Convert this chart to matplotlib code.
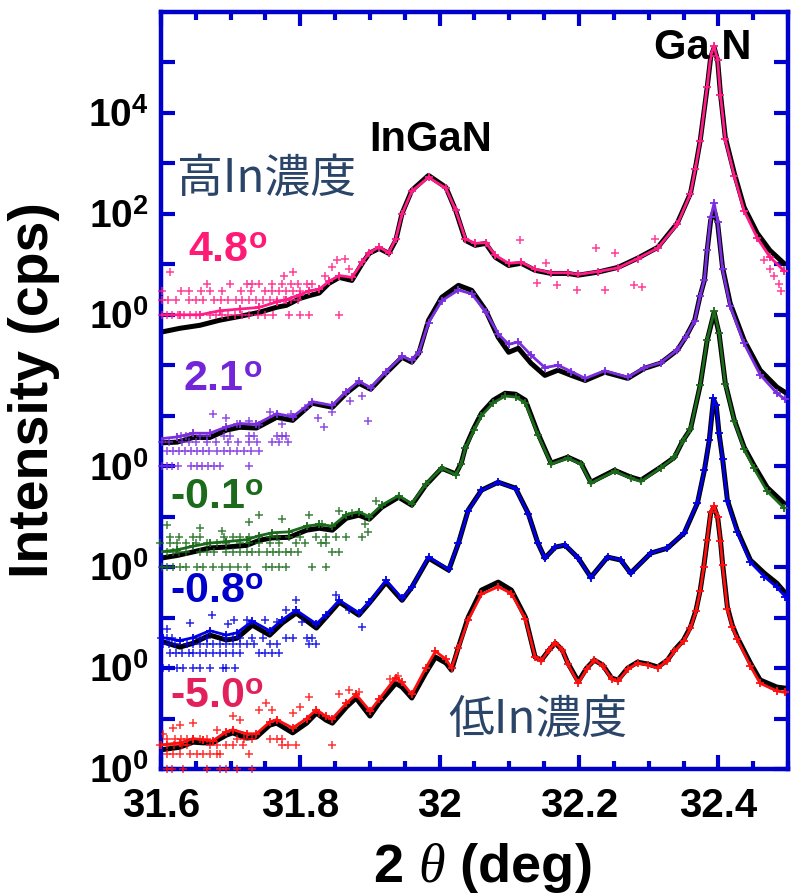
import numpy as np
import matplotlib
matplotlib.use('Agg')
import matplotlib.pyplot as plt
from matplotlib.ticker import FixedLocator, FixedFormatter, MultipleLocator, NullLocator, FuncFormatter

plt.rcParams['font.family'] = ['Liberation Sans', 'DejaVu Sans']
plt.rcParams['mathtext.fontset'] = 'custom'
plt.rcParams['mathtext.rm'] = 'Liberation Sans:bold'
plt.rcParams['mathtext.bf'] = 'Liberation Sans:bold'
plt.rcParams['mathtext.it'] = 'Liberation Serif:italic'

# ---- measured / fitted XRD profiles (cps), one set per off-angle ----
x_red = [31.600, 31.627, 31.646, 31.660, 31.674, 31.694, 31.703, 31.723, 31.737, 31.756, 31.766, 31.789, 31.809,
         31.823, 31.837, 31.846, 31.866, 31.880, 31.900, 31.913, 31.937, 31.946, 31.960, 31.980, 31.994, 32.009,
         32.017, 32.027, 32.041, 32.060, 32.084, 32.103, 32.123, 32.137, 32.146, 32.157, 32.166, 32.176, 32.184,
         32.199, 32.211, 32.222, 32.234, 32.247, 32.256, 32.270, 32.284, 32.299, 32.313, 32.327, 32.337, 32.350,
         32.360, 32.368, 32.374, 32.379, 32.384, 32.389, 32.394, 32.399, 32.403, 32.406, 32.413, 32.420, 32.427,
         32.446, 32.460, 32.484, 32.496]
fit_red = [2.4, 2.7, 3.4, 3.3, 3.3, 4.7, 5.2, 4.1, 4.3, 7.4, 8.1, 5.2, 8.1, 12.8, 9.3, 8.1, 16.9, 25.5, 11.2, 20.3,
           50, 42, 25.5, 80, 165, 126, 91, 261, 1020, 3500, 5050, 3500, 1020, 165, 144, 227, 313, 227, 126, 54, 100,
           144, 115, 63, 58, 100, 131, 120, 105, 144, 227, 358, 650, 1410, 3500, 10000, 34000, 117000, 154000,
           98000, 34000, 12000, 1610, 710, 411, 126, 58, 42, 40]
meas_red = [3.0, 3.3, 4.0, 3.8, 3.6, 5.5, 6.0, 5.0, 5.0, 8.5, 9.5, 6.5, 10, 15, 11, 10, 20, 30, 14, 24, 65, 52, 30,
            100, 215, 150, 100, 250, 900, 2900, 4100, 3000, 950, 165, 140, 230, 320, 230, 120, 50, 95, 145, 112, 60,
            55, 95, 125, 115, 100, 140, 215, 340, 620, 1350, 3400, 10000, 35000, 125000, 165000, 100000, 33000,
            11000, 1500, 650, 380, 110, 50, 35, 33]

x_blue = [31.603, 31.627, 31.646, 31.670, 31.694, 31.709, 31.731, 31.756, 31.774, 31.794, 31.823, 31.837, 31.856,
          31.884, 31.899, 31.923, 31.946, 31.960, 31.984, 32.013, 32.027, 32.041, 32.060, 32.084, 32.109, 32.127,
          32.141, 32.151, 32.166, 32.180, 32.199, 32.217, 32.241, 32.260, 32.274, 32.303, 32.327, 32.351, 32.370,
          32.380, 32.387, 32.393, 32.397, 32.401, 32.406, 32.413, 32.427, 32.446, 32.466, 32.484, 32.496]
fit_blue = [3.3, 2.6, 3.1, 4.5, 3.6, 3.9, 7.1, 4.5, 7.8, 12.3, 6.2, 10.2, 20.3, 11.2, 19.4, 50, 22, 40, 151, 87,
            299, 1350, 3350, 4820, 3660, 1170, 299, 151, 249, 273, 151, 63, 158, 138, 76, 189, 238, 471, 1850, 8340,
            32700, 212000, 161000, 45000, 14400, 2120, 541, 138, 76, 48, 31]
meas_blue = [4.0, 3.5, 4.0, 5.5, 4.5, 5.0, 8.5, 5.5, 9.0, 14, 7.5, 11.5, 22, 12.5, 20, 55, 24, 40, 160, 90, 300,
             1300, 3300, 4800, 3600, 1150, 300, 150, 250, 280, 150, 62, 160, 140, 75, 190, 240, 480, 1900, 8500,
             33000, 220000, 165000, 46000, 14000, 2000, 500, 125, 65, 40, 26]

x_green = [31.599, 31.623, 31.646, 31.670, 31.694, 31.723, 31.741, 31.760, 31.784, 31.809, 31.827, 31.846, 31.866,
           31.884, 31.899, 31.917, 31.941, 31.960, 31.980, 32.003, 32.023, 32.031, 32.037, 32.049, 32.060, 32.077,
           32.094, 32.109, 32.123, 32.141, 32.160, 32.184, 32.203, 32.217, 32.251, 32.274, 32.289, 32.317, 32.337,
           32.349, 32.360, 32.374, 32.384, 32.394, 32.401, 32.410, 32.423, 32.437, 32.451, 32.470, 32.494]
fit_green = [1.5, 1.7, 2.0, 2.4, 2.5, 2.7, 3.4, 3.8, 3.9, 5.4, 5.9, 5.4, 9.3, 10.7, 8.9, 15.4, 24.3, 16.9, 42, 91,
             70, 115, 238, 565, 1120, 2030, 2790, 2670, 2030, 450, 115, 151, 115, 48, 83, 61, 53, 95, 150, 320, 540,
             4020, 31300, 112000, 43000, 4400, 815, 238, 105, 38, 18.5]
meas_green = [2.0, 2.2, 2.6, 3.0, 3.2, 3.5, 4.2, 4.8, 5.0, 6.5, 7.0, 6.5, 11, 12.5, 10, 17, 26, 18, 44, 92, 68, 112,
              230, 520, 1000, 1800, 2450, 2350, 1800, 420, 110, 145, 110, 46, 80, 58, 50, 92, 150, 320, 540, 4100,
              32000, 118000, 44000, 4300, 780, 220, 92, 32, 15]

x_purple = [31.599, 31.623, 31.646, 31.670, 31.694, 31.713, 31.737, 31.766, 31.789, 31.817, 31.846, 31.866, 31.884,
            31.901, 31.923, 31.946, 31.960, 31.970, 31.984, 32.003, 32.027, 32.046, 32.066, 32.084, 32.099, 32.113,
            32.131, 32.151, 32.170, 32.189, 32.209, 32.237, 32.270, 32.294, 32.317, 32.341, 32.353, 32.366, 32.374,
            32.380, 32.384, 32.389, 32.394, 32.399, 32.406, 32.417, 32.437, 32.460, 32.484, 32.496]
fit_purple = [2.9, 3.0, 3.7, 3.7, 5.2, 5.9, 5.7, 9.3, 8.1, 17.7, 14.7, 27.9, 44, 33.5, 70, 144, 115, 173, 778, 2220,
              3840, 3050, 1230, 358, 181, 217, 110, 63, 80, 63, 50, 73, 55, 87, 110, 198, 358, 778, 2430, 4820,
              18900, 74300, 117000, 64900, 8730, 1690, 313, 80, 37, 29]
meas_purple = [3.5, 3.8, 4.5, 4.5, 6.0, 7.0, 6.8, 11, 9.5, 19, 16, 30, 48, 36, 75, 150, 125, 180, 700, 1900, 3100,
               2600, 1150, 420, 260, 290, 160, 90, 100, 75, 55, 78, 58, 90, 112, 200, 360, 760, 2400, 4900, 19500,
               85000, 165000, 70000, 8000, 1500, 270, 65, 28, 21]

x_pink = [31.599, 31.627, 31.656, 31.684, 31.713, 31.741, 31.766, 31.780, 31.799, 31.813, 31.827, 31.841, 31.856,
          31.874, 31.889, 31.899, 31.913, 31.927, 31.937, 31.946, 31.960, 31.984, 32.009, 32.023, 32.037, 32.051,
          32.066, 32.080, 32.099, 32.117, 32.137, 32.160, 32.184, 32.199, 32.227, 32.256, 32.284, 32.313, 32.341,
          32.360, 32.367, 32.374, 32.384, 32.389, 32.394, 32.399, 32.403, 32.410, 32.423, 32.437, 32.456, 32.474,
          32.494]
fit_pink = [0.45, 0.54, 0.62, 0.78, 0.93, 1.12, 1.41, 1.54, 2.1, 2.4, 2.7, 4.2, 5.5, 4.8, 10.5, 16.5, 20.7, 16.5,
            29.8, 102, 292, 578, 335, 117, 29.8, 23.8, 26, 13.8, 9.5, 10.5, 7.6, 6.6, 6.6, 6.1, 7.0, 8.7, 13.2, 21.7,
            65, 255, 800, 2850, 32000, 126000, 198000, 110000, 24300, 3270, 634, 135, 41, 18.9, 10.5]
meas_pink = [1.0, 1.0, 1.0, 1.2, 1.3, 1.4, 1.8, 2.0, 2.5, 3.0, 3.2, 4.6, 6.0, 5.5, 11, 17, 22, 17, 32, 100, 280,
             530, 320, 118, 32, 26, 27, 15, 10.5, 11, 8.0, 6.8, 6.8, 6.3, 7.2, 8.5, 13, 21, 62, 250, 780, 2800,
             33000, 135000, 215000, 110000, 23000, 3000, 560, 115, 33, 14, 7.5]

# low-count points: x positions sitting on the 1, 2, 3 and 4 cps levels
red_rows = [[31.609, 31.616, 31.631, 31.666, 31.684, 31.694, 31.709, 31.731],
            [31.609, 31.617, 31.627, 31.641, 31.651, 31.660, 31.670, 31.680, 31.684, 31.727],
            [31.599, 31.609, 31.619, 31.630, 31.637, 31.670, 31.680, 31.694, 31.703, 31.717, 31.774, 31.783, 31.794,
             31.846],
            [31.609, 31.620, 31.629, 31.637, 31.646, 31.656, 31.666, 31.709, 31.719, 31.731, 31.756, 31.766, 31.774]]
red_sc_x = [31.603, 31.617, 31.627, 31.646, 31.680, 31.703, 31.713, 31.741, 31.751, 31.760, 31.789, 31.799, 31.813,
            31.827, 31.856, 31.870, 31.884, 31.929, 31.940]
red_sc_y = [5, 6.5, 7.4, 8, 5.9, 11, 9.3, 15, 20, 15, 13, 17, 27, 13, 30, 36, 33, 60, 70]

blue_rows = [[31.603, 31.612, 31.623, 31.631, 31.646, 31.656, 31.670, 31.689, 31.694, 31.706],
             [31.613, 31.621, 31.630, 31.640, 31.646, 31.656, 31.664, 31.674, 31.684, 31.694, 31.703, 31.714,
              31.741, 31.750, 31.760, 31.770],
             [31.603, 31.611, 31.620, 31.637, 31.646, 31.656, 31.666, 31.674, 31.684, 31.694, 31.703, 31.713,
              31.723, 31.733, 31.756, 31.766, 31.813, 31.823],
             [31.600, 31.608, 31.616, 31.656, 31.666, 31.694, 31.703, 31.713, 31.731, 31.746, 31.780, 31.789,
              31.809, 31.817]]
blue_sc_x = [31.609, 31.641, 31.673, 31.696, 31.705, 31.724, 31.750, 31.766, 31.780, 31.794, 31.803, 31.851, 31.870,
             31.889]
blue_sc_y = [6, 7.8, 11.2, 7.5, 9, 9, 9, 8, 14, 22, 8, 28, 14, 6.5]

green_rows = [[31.601, 31.609, 31.617, 31.627, 31.636, 31.651, 31.660, 31.674, 31.687, 31.699, 31.711, 31.723,
               31.751, 31.760, 31.769, 31.780, 31.817, 31.837],
              [31.609, 31.617, 31.626, 31.636, 31.656, 31.666, 31.676, 31.694, 31.703, 31.713, 31.723, 31.730,
               31.740, 31.752, 31.761, 31.770, 31.780, 31.786, 31.796, 31.846, 31.856],
              [31.599, 31.613, 31.623, 31.636, 31.650, 31.666, 31.680, 31.694, 31.713, 31.727, 31.740, 31.756,
               31.770, 31.794, 31.807, 31.829, 31.837],
              [31.613, 31.626, 31.646, 31.656, 31.690, 31.703, 31.713, 31.727, 31.756, 31.766, 31.784, 31.799,
               31.823, 31.837, 31.851, 31.866, 31.889]]
green_sc_x = [31.609, 31.656, 31.687, 31.727, 31.741, 31.774, 31.813, 31.831, 31.856, 31.874, 31.893, 31.897, 31.909]
green_sc_y = [6.7, 5.9, 5.2, 8, 10.7, 8.9, 10.7, 7, 13, 12, 7, 5, 20]

purple_rows = [[31.601, 31.608, 31.616, 31.624, 31.643, 31.651, 31.659, 31.667, 31.676, 31.684, 31.727],
               [31.609, 31.617, 31.626, 31.634, 31.643, 31.651, 31.660, 31.669, 31.681, 31.690, 31.699, 31.709,
                31.719, 31.729, 31.740],
               [31.601, 31.612, 31.630, 31.640, 31.650, 31.666, 31.679, 31.696, 31.710, 31.726, 31.738, 31.759,
                31.770, 31.783],
               [31.629, 31.636, 31.656, 31.666, 31.690, 31.699, 31.727, 31.733, 31.766, 31.773, 31.780]]
purple_sc_x = [31.674, 31.694, 31.709, 31.726, 31.741, 31.756, 31.774, 31.786, 31.806, 31.826, 31.834, 31.846,
               31.871, 31.889, 31.897]
purple_sc_y = [11, 9, 7, 8, 6.5, 12, 7, 11, 14, 9, 6, 12, 20, 25, 8]

pink_rows = [[31.601, 31.609, 31.616, 31.624, 31.633, 31.641, 31.650, 31.670, 31.679, 31.687, 31.696, 31.706,
              31.716, 31.727, 31.739, 31.750, 31.761, 31.784, 31.799, 31.813, 31.856],
             [31.601, 31.610, 31.622, 31.640, 31.650, 31.660, 31.676, 31.686, 31.696, 31.708, 31.716, 31.726,
              31.736, 31.746, 31.756, 31.766, 31.776, 31.786, 31.796],
             [31.601, 31.629, 31.640, 31.657, 31.670, 31.687, 31.715, 31.729, 31.749, 31.759, 31.769, 31.779,
              31.789, 31.800],
             [31.666, 31.699, 31.723, 31.731, 31.741, 31.760, 31.774, 31.786, 31.797, 31.809, 31.817]]
pink_sc_x = [31.613, 31.776, 31.790, 31.836, 31.846, 31.853, 31.864, 31.870, 32.116, 32.140, 32.153, 32.169, 32.197,
             32.224, 32.237, 32.251, 32.279, 32.290, 32.309, 32.466, 32.474, 32.480, 32.487, 32.490]
pink_sc_y = [7, 6, 7, 6, 9, 12, 13, 8, 29.8, 4.2, 10.5, 3.9, 3.1, 21, 3.1, 16.5, 3.9, 3.5, 32, 12, 8, 6, 4, 3]

offsets = [1, 1e2, 1e4, 1e6, 1e9]
colors = ['#ff1010', '#0000e6', '#1b6b1b', '#7a2ee0', '#ff1c86']
label_text = ['-5.0', '-0.8', '-0.1', '2.1', '4.8']
label_colors = ['#e2215c', '#0000cc', '#1b6b1b', '#7326d9', '#ff1a75']
label_x = [31.680, 31.680, 31.680, 31.689, 31.696]
label_y = [27, 3.2e3, 2.3e5, 5.0e7, 1.8e10]

profiles = [(x_red, fit_red, meas_red, red_rows, red_sc_x, red_sc_y),
            (x_blue, fit_blue, meas_blue, blue_rows, blue_sc_x, blue_sc_y),
            (x_green, fit_green, meas_green, green_rows, green_sc_x, green_sc_y),
            (x_purple, fit_purple, meas_purple, purple_rows, purple_sc_x, purple_sc_y),
            (x_pink, fit_pink, meas_pink, pink_rows, pink_sc_x, pink_sc_y)]

axis_blue = '#0000cc'

fig = plt.figure(figsize=(7.91, 8.96), dpi=100)
ax = fig.add_axes([161 / 791, 1 - 769 / 896, (788 - 161) / 791, (769 - 12) / 896])

for (xs, fit, meas, rows, sc_x, sc_y), off, c in zip(profiles, offsets, colors):
    ax.plot(xs, np.array(fit) * off, color='black', lw=3.6, zorder=2, solid_joinstyle='round')
    ax.plot(xs, np.array(meas) * off, color=c, lw=2.0, marker='+', ms=6, mew=1.3, zorder=3,
            solid_joinstyle='round')
    for level, row in enumerate(rows):
        ax.plot(row, np.full(len(row), (level + 1) * off), ls='none', marker='+', ms=6, mew=1.1,
                color=c, alpha=0.85, zorder=3, clip_on=False)
    ax.plot(sc_x, np.array(sc_y) * off, ls='none', marker='+', ms=6, mew=1.1, color=c, alpha=0.85, zorder=3)

ax.set_yscale('log')
ax.set_xlim(31.6, 32.5)
ax.set_ylim(1, 1e15)

decades = 10.0 ** np.arange(15)
ytick_labels = ['10$^{\\mathbf{0}}$', '', '10$^{\\mathbf{0}}$', '', '10$^{\\mathbf{0}}$', '', '10$^{\\mathbf{0}}$',
                '', '', '10$^{\\mathbf{0}}$', '', '10$^{\\mathbf{2}}$', '', '10$^{\\mathbf{4}}$', '']
ax.yaxis.set_major_locator(FixedLocator(decades))
ax.yaxis.set_major_formatter(FixedFormatter(ytick_labels))
ax.yaxis.set_minor_locator(NullLocator())
ax.xaxis.set_major_locator(MultipleLocator(0.2))
ax.xaxis.set_minor_locator(MultipleLocator(0.05))
ax.xaxis.set_major_formatter(FuncFormatter(lambda v, p: '%g' % round(v, 2)))

ax.tick_params(which='both', direction='in', top=True, right=True, color=axis_blue, width=3)
ax.tick_params(which='major', length=10)
ax.tick_params(which='minor', length=6)
ax.tick_params(axis='x', labelsize=29, pad=13)
ax.tick_params(axis='y', labelsize=28, pad=9)
for lab in ax.get_xticklabels() + ax.get_yticklabels():
    lab.set_fontweight('bold')
for s in ax.spines.values():
    s.set_color(axis_blue)
    s.set_linewidth(3.2)

for t, c, lx, ly in zip(label_text, label_colors, label_x, label_y):
    ax.text(lx, ly, t + '$^{\\mathbf{o}}$', color=c, fontsize=31, fontweight='bold', ha='center', va='center')

ax.text(31.987, 2.85e12, 'InGaN', fontsize=30, fontweight='bold', ha='center', va='center')
ax.text(32.377, 1.9e14, 'Ga N', fontsize=30, fontweight='bold', ha='center', va='center')
ax.text(31.751, 5e11, '高In濃度', family=['Noto Sans CJK JP'], fontsize=33, color='#2b4568',
        ha='center', va='center')
ax.text(32.141, 9.3, '低In濃度', family=['Noto Sans CJK JP'], fontsize=33, color='#2b4568',
        ha='center', va='center')

fig.text(34 / 791, 1 - 390 / 896, 'Intensity (cps)', rotation=90, fontsize=40, fontweight='bold',
         ha='center', va='center')
fig.text(482 / 791, 1 - 868 / 896, '2 $\\mathit{\\theta}$ (deg)', fontsize=39, fontweight='bold',
         ha='center', va='center')

fig.savefig('out.png', dpi=100)
